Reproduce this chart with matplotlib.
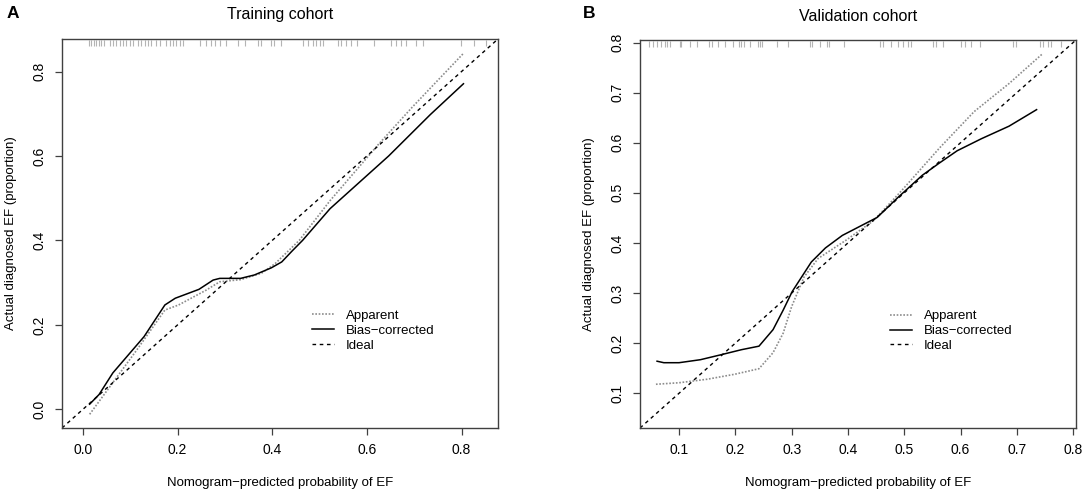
import numpy as np
import matplotlib
matplotlib.use("Agg")
from matplotlib import pyplot as plt

plt.rcParams['font.family'] = ['Liberation Sans', 'DejaVu Sans']

# training cohort curves
train_app_x = [0.014, 0.063, 0.114, 0.173, 0.202, 0.26, 0.289, 0.333, 0.377, 0.406, 0.457, 0.522, 0.624, 0.697, 0.804]
train_app_y = [-0.012, 0.063, 0.141, 0.235, 0.247, 0.282, 0.302, 0.307, 0.322, 0.345, 0.40, 0.494, 0.627, 0.717, 0.843]
train_bias_x = [0.014, 0.034, 0.063, 0.129, 0.173, 0.195, 0.245, 0.275, 0.289, 0.333, 0.362, 0.398, 0.42, 0.442, 0.464, 0.522, 0.646, 0.734, 0.804]
train_bias_y = [0.012, 0.035, 0.086, 0.172, 0.247, 0.263, 0.284, 0.306, 0.31, 0.31, 0.318, 0.335, 0.349, 0.375, 0.40, 0.475, 0.60, 0.698, 0.771]
train_rug = [0.0128, 0.0177, 0.0233, 0.0282, 0.0339, 0.0388, 0.0437, 0.0564, 0.0634, 0.0705,
             0.0775, 0.0846, 0.0916, 0.0987, 0.1057, 0.1162, 0.1233, 0.1303, 0.1374, 0.1444,
             0.155, 0.162, 0.176, 0.183, 0.190, 0.197, 0.204, 0.211, 0.2466, 0.2606, 0.2712,
             0.278, 0.289, 0.303, 0.327, 0.342, 0.370, 0.377, 0.398, 0.403, 0.419, 0.465,
             0.475, 0.486, 0.493, 0.500, 0.507, 0.539, 0.546, 0.556, 0.567, 0.578, 0.616,
             0.651, 0.662, 0.673, 0.683, 0.704, 0.718, 0.799, 0.827, 0.852]

# validation cohort curves
valid_app_x = [0.059, 0.1, 0.15, 0.199, 0.242, 0.267, 0.285, 0.30, 0.322, 0.347, 0.396, 0.446, 0.495, 0.563, 0.624, 0.686, 0.746]
valid_app_y = [0.118, 0.121, 0.128, 0.138, 0.149, 0.181, 0.22, 0.273, 0.332, 0.369, 0.405, 0.445, 0.504, 0.59, 0.662, 0.718, 0.778]
valid_bias_x = [0.061, 0.073, 0.1, 0.138, 0.175, 0.211, 0.242, 0.267, 0.285, 0.301, 0.335, 0.36, 0.39, 0.452, 0.489, 0.532, 0.563, 0.594, 0.637, 0.686, 0.735]
valid_bias_y = [0.164, 0.161, 0.161, 0.167, 0.177, 0.187, 0.194, 0.227, 0.266, 0.303, 0.362, 0.39, 0.415, 0.451, 0.491, 0.535, 0.56, 0.584, 0.608, 0.633, 0.666]
valid_rug = [0.0467, 0.0538, 0.0609, 0.0674, 0.0757, 0.0793, 0.0846, 0.1012, 0.1041, 0.120,
             0.1326, 0.1533, 0.1586, 0.1693, 0.1823, 0.196, 0.206, 0.2107, 0.2149, 0.2267,
             0.2403, 0.2439, 0.248, 0.2747, 0.2936, 0.3321, 0.3362, 0.351, 0.3635, 0.3664,
             0.3931, 0.4564, 0.4623, 0.4771, 0.489, 0.4979, 0.5067, 0.5127, 0.5512, 0.5571,
             0.5689, 0.6015, 0.6074, 0.6192, 0.634, 0.6932, 0.6992, 0.7406, 0.7465, 0.7554,
             0.7613, 0.7791]

fig = plt.figure(figsize=(10.84, 4.93), dpi=100)
W, H = 1084, 493
axA = fig.add_axes([62 / W, (H - 428) / H, 436 / W, 389 / H])
axB = fig.add_axes([640 / W, (H - 428) / H, 436 / W, 388 / H])

fs = 9.5
edge = '#404040'


def draw(ax, app_x, app_y, bias_x, bias_y, rug, lim, ticks, title):
    ax.set_xlim(lim)
    ax.set_ylim(lim)
    # rug of predicted values along the top
    ax.vlines(rug, 0.982, 0.998, transform=ax.get_xaxis_transform(),
              color='#b4b4b4', lw=0.8)
    ax.plot(app_x, app_y, color='#8c8c8c', lw=1.2, ls=(0, (1, 1)), label='Apparent')
    ax.plot(bias_x, bias_y, color='black', lw=1.1, label='Bias\u2212corrected')
    ax.plot(lim, lim, color='black', lw=1.0, ls=(0, (2.6, 2.6)), label='Ideal')
    ax.set_xticks(ticks)
    ax.set_yticks(ticks)
    ax.set_xticklabels([f"{t:.1f}" for t in ticks])
    ax.set_yticklabels([f"{t:.1f}" for t in ticks])
    ax.tick_params(length=5, width=0.9, color=edge, pad=6, labelsize=10)
    ax.tick_params(axis='y', labelrotation=90)
    for lab in ax.get_yticklabels():
        lab.set_va('center')
    for s in ax.spines.values():
        s.set_color(edge)
        s.set_linewidth(1.0)
    ax.set_xlabel('Nomogram\u2212predicted probability of EF', fontsize=fs)
    ax.set_ylabel('Actual diagnosed EF (proportion)', fontsize=fs)
    ax.xaxis.set_label_coords(0.5, -0.141)
    ax.xaxis.label.set_va('center')
    ax.yaxis.set_label_coords(-0.118, 0.5)
    ax.yaxis.label.set_va('center')
    ax.text(0.5, 1 + 24 / 389, title, transform=ax.transAxes, ha='center',
            va='center', fontsize=11.5)
    ax.legend(loc='upper left', bbox_to_anchor=(0.5725, 0.304), frameon=False,
              fontsize=fs, borderpad=0, borderaxespad=0, handlelength=1.67,
              handletextpad=0.9, labelspacing=0.2)


draw(axA, train_app_x, train_app_y, train_bias_x, train_bias_y, train_rug,
     (-0.0444, 0.877), [0.0, 0.2, 0.4, 0.6, 0.8], 'Training cohort')
draw(axB, valid_app_x, valid_app_y, valid_bias_x, valid_bias_y, valid_rug,
     (0.0307, 0.805), [0.1, 0.2, 0.3, 0.4, 0.5, 0.6, 0.7, 0.8], 'Validation cohort')

fig.text(13 / W, 1 - 13 / H, 'A', fontsize=12.5, fontweight='bold', ha='center', va='center')
fig.text(589 / W, 1 - 14 / H, 'B', fontsize=12.5, fontweight='bold', ha='center', va='center')

fig.savefig('out.png', dpi=100)
